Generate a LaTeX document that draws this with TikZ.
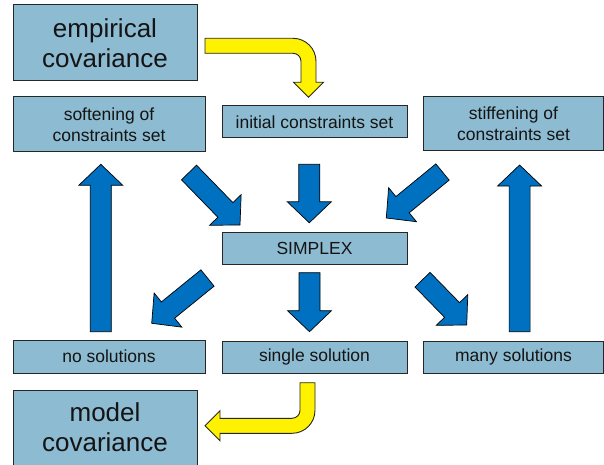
\documentclass[tikz,border=0pt]{standalone}
\usepackage{fontspec}
\setmainfont{Liberation Sans}
\usetikzlibrary{calc}
\definecolor{boxblue}{RGB}{141,187,209}
\definecolor{boxline}{RGB}{38,38,38}
\definecolor{arrowblue}{RGB}{0,112,192}
\definecolor{txt}{RGB}{20,20,20}
\tikzset{
  box/.style={draw=boxline, line width=1pt, fill=boxblue, text=txt, align=center, inner sep=0pt, anchor=center},
  bigbox/.style={box, font=\fontsize{26}{30}\selectfont},
  smallbox/.style={box, font=\fontsize{17.5}{21}\selectfont},
  bluearrow/.style={draw=black, line width=0.7pt, fill=arrowblue, line join=miter},
  yellowarrow/.style={draw=black!85, line width=0.9pt, fill=yellow, line join=miter},
}
\newcommand\barrow[6]{%
  \coordinate (tmpC) at ($(#3)!#6!(#2)$);
  \draw[#1] ($(#2)!#4!90:(#3)$) -- ($(tmpC)!#4!90:(#3)$) -- ($(tmpC)!#5!90:(#3)$) -- (#3)
    -- ($(tmpC)!#5!-90:(#3)$) -- ($(tmpC)!#4!-90:(#3)$) -- ($(#2)!#4!-90:(#3)$) -- cycle;}
\begin{document}
\begin{tikzpicture}[x=1pt,y=-1pt]
\useasboundingbox (0,0) rectangle (604,465);
% boxes
\node[bigbox, minimum width=184pt, minimum height=76pt] (emp) at (105,43) {empirical\\covariance};
\node[smallbox, minimum width=192pt, minimum height=55pt] (soft) at (109,124.5) {softening of\\constraints set};
\node[smallbox, minimum width=185pt, minimum height=32pt] (init) at (314.5,122) {initial constraints set};
\node[smallbox, minimum width=180pt, minimum height=54pt] (stiff) at (513.5,124) {stiffening of\\constraints set};
\node[smallbox, minimum width=185pt, minimum height=32pt] (simplex) at (314.5,248) {SIMPLEX};
\node[smallbox, minimum width=192pt, minimum height=33pt] (nosol) at (109,356.5) {no solutions};
\node[smallbox, minimum width=185pt, minimum height=32pt] (single) at (314.5,357) {single solution};
\node[smallbox, minimum width=180pt, minimum height=32pt] (many) at (513.5,357) {many solutions};
\node[bigbox, minimum width=184pt, minimum height=75pt] (model) at (105,427.5) {model\\covariance};
% blue block arrows (free ends as named coordinates)
\coordinate (b1s) at (100.8,331.7); \coordinate (b1e) at (100.8,164.3);
\coordinate (b2s) at (519.6,331.7); \coordinate (b2e) at (519.6,165);
\coordinate (b3s) at (189,172.5);   \coordinate (b3e) at (240,225);
\coordinate (b4s) at (309.3,164.3); \coordinate (b4e) at (309.3,222.8);
\coordinate (b5s) at (442.5,172);   \coordinate (b5e) at (386.3,218);
\coordinate (b6s) at (207.5,278);   \coordinate (b6e) at (151.7,323.3);
\coordinate (b7s) at (309.5,272.7); \coordinate (b7e) at (309.5,331.7);
\coordinate (b8s) at (422.5,279.7); \coordinate (b8e) at (466.7,325);
\barrow{bluearrow}{b1s}{b1e}{10.5pt}{22pt}{21pt}
\barrow{bluearrow}{b2s}{b2e}{10.5pt}{22pt}{21pt}
\barrow{bluearrow}{b3s}{b3e}{10.5pt}{22pt}{21pt}
\barrow{bluearrow}{b4s}{b4e}{10.5pt}{22pt}{21pt}
\barrow{bluearrow}{b5s}{b5e}{10.5pt}{22pt}{21pt}
\barrow{bluearrow}{b6s}{b6e}{10.5pt}{22pt}{21pt}
\barrow{bluearrow}{b7s}{b7e}{10.5pt}{22pt}{21pt}
\barrow{bluearrow}{b8s}{b8e}{10.5pt}{22pt}{21pt}
% yellow bent arrows
\draw[yellowarrow] (205,38.3) -- (293,38.3) to[out=0,in=90] (316,61.3) -- (316,82.3) -- (323.5,82.3)
  -- (308.5,97.3) -- (293.5,82.3) -- (301,82.3) -- (301,61.3) to[out=90,in=0] (293,53.3) -- (205,53.3) -- cycle;
\draw[yellowarrow] (300,382.7) -- (315,382.7) -- (315,410.3) to[out=-90,in=0] (292,433.3) -- (220,433.3)
  -- (220,440.8) -- (205,425.8) -- (220,410.8) -- (220,418.3) -- (292,418.3) to[out=0,in=-90] (300,410.3) -- cycle;
\end{tikzpicture}
\end{document}
